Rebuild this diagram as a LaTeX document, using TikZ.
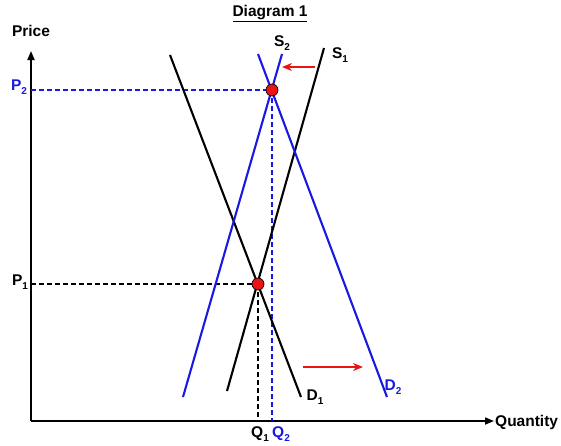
\documentclass[tikz,border=0pt]{standalone}
\usepackage{fontspec}
\setmainfont{Liberation Sans}
\usetikzlibrary{arrows.meta}
\definecolor{cblue}{RGB}{25,25,225}
\definecolor{cred}{RGB}{235,20,20}
\newcommand{\lsub}[1]{\raisebox{-0.45ex}{\fontsize{10}{10}\selectfont\bfseries #1}}
\tikzset{
  lbl/.style={font=\fontsize{15.5}{18}\selectfont\bfseries, inner sep=0pt},
  axisline/.style={line width=1.7pt, -{Triangle[length=9pt,width=7pt]}},
  curve/.style={line width=2.1pt},
  guide/.style={line width=1.3pt, dash pattern=on 5pt off 3pt},
  dot/.style={circle, fill=cred, draw=black, line width=0.7pt, minimum size=12pt, inner sep=0pt},
  shiftarrow/.style={cred, line width=1.4pt, -{Stealth[length=10pt,width=8pt]}}
}
\begin{document}
\begin{tikzpicture}[x=1pt,y=-1pt]
\useasboundingbox (0,0) rectangle (561,445);
% axes
\coordinate (O) at (31,421);
\coordinate (Ytop) at (31,51);
\coordinate (Xend) at (494,421);
\draw[axisline] (O) -- (Ytop);
\draw[axisline] (O) -- (Xend);
\node[lbl, anchor=west] (xl) at (495,422) {Quantity};
\node[lbl, anchor=center] (yl) at (31,31) {Price};
\node[lbl, anchor=center] (title) at (270,14) {\underline{Diagram 1}};
% equilibrium points
\coordinate (E1) at (258,284);
\coordinate (E2) at (272,90);
\coordinate (Q1) at (258,421);
\coordinate (Q2) at (272,421);
\coordinate (P1) at (31,284);
\coordinate (P2) at (31,90);
% guides
\draw[guide, black] (P1) -- (E1);
\draw[guide, black] (E1) -- (Q1);
\draw[guide, cblue] (P2) -- (E2);
\draw[guide, cblue] (E2) -- (Q2);
% curves
\coordinate (D1a) at (170,55);
\coordinate (D1b) at (301,397);
\coordinate (S1a) at (324,48);
\coordinate (S1b) at (227,391);
\coordinate (S2a) at (282,54);
\coordinate (S2b) at (183,397);
\coordinate (D2a) at (258,54);
\coordinate (D2b) at (387,397);
\draw[curve, black] (D1a) -- (D1b);
\draw[curve, black] (S1a) -- (S1b);
\draw[curve, cblue] (S2a) -- (S2b);
\draw[curve, cblue] (D2a) -- (D2b);
% dots
\node[dot] (e1) at (E1) {};
\node[dot] (e2) at (E2) {};
% shift arrows
\coordinate (sa) at (315,67);
\coordinate (sb) at (282,67);
\coordinate (da) at (303,367);
\coordinate (db) at (363,367);
\draw[shiftarrow] (sa) -- (sb);
\draw[shiftarrow] (da) -- (db);
% labels
\node[lbl] (ls2) at (282,43) {S\lsub{2}};
\node[lbl] (ls1) at (340,55) {S\lsub{1}};
\node[lbl] (ld1) at (315,397) {D\lsub{1}};
\node[lbl, cblue] (ld2) at (393,387) {D\lsub{2}};
\node[lbl, cblue] (lp2) at (19,87) {P\lsub{2}};
\node[lbl] (lp1) at (20,282) {P\lsub{1}};
\node[lbl] (lq1) at (260,434) {Q\lsub{1}};
\node[lbl, cblue] (lq2) at (281,434) {Q\lsub{2}};
\end{tikzpicture}
\end{document}
